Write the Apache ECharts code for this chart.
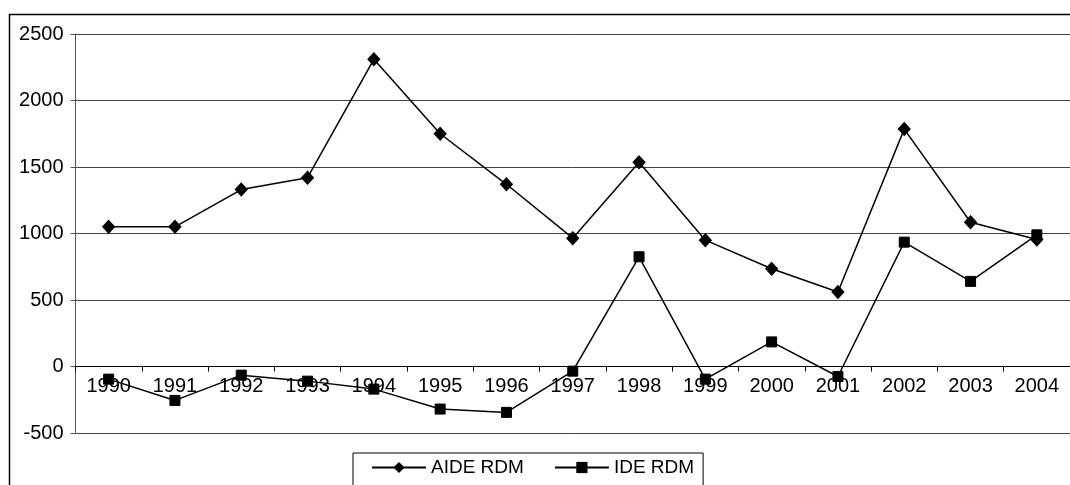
<!DOCTYPE html>
<html>
<head>
<meta charset="utf-8">
<style>
  html, body { margin: 0; padding: 0; background: #fff; }
  #chart { width: 1070px; height: 485px; }
</style>
<script src="https://cdn.jsdelivr.net/npm/echarts@6/dist/echarts.min.js"></script>
</head>
<body>
<div id="chart"></div>
<script>
// Years on the category axis
const years = ['1990', '1991', '1992', '1993', '1994', '1995', '1996', '1997',
               '1998', '1999', '2000', '2001', '2002', '2003', '2004'];

// AIDE RDM series
const aideRdm = [1050, 1050, 1330, 1420, 2310, 1750, 1370, 965,
                 1535, 950, 735, 560, 1785, 1085, 955];

// IDE RDM series
const ideRdm = [-95, -255, -65, -110, -170, -320, -345, -35,
                825, -95, 185, -75, 935, 640, 990];

// Value axis ticks
const yMin = -500, yMax = 2500, yStep = 500;

const font = '"Liberation Sans", Arial, sans-serif';

const chart = echarts.init(document.getElementById('chart'), null, { renderer: 'canvas' });

chart.setOption({
  animation: false,
  backgroundColor: '#fff',
  textStyle: { fontFamily: font, color: '#000' },
  graphic: [{
    type: 'rect',
    shape: { x: 9.5, y: 14.5, width: 1100, height: 520 },
    style: { fill: 'none', stroke: '#000', lineWidth: 1.5 },
    z: 100
  }],
  grid: { left: 75.5, right: -5, top: 34, bottom: 52, containLabel: false },
  legend: {
    left: 353,
    top: 453,
    padding: [5, 9, 20, 18],
    itemGap: 30,
    itemWidth: 54,
    itemHeight: 14,
    itemTextGap: 2,
    borderColor: '#000',
    borderWidth: 1,
    backgroundColor: '#fff',
    textStyle: { fontFamily: font, fontSize: 19, color: '#000' },
    data: ['AIDE RDM', 'IDE RDM']
  },
  xAxis: {
    type: 'category',
    data: years,
    boundaryGap: true,
    offset: 0,
    axisLine: { onZero: false, lineStyle: { color: '#000', width: 1 } },
    axisTick: { show: true, inside: false, length: 5, alignWithLabel: false, lineStyle: { color: '#000' } },
    axisLabel: { fontFamily: font, fontSize: 20, color: '#000', margin: 10, interval: 0 },
    splitLine: { show: false }
  },
  yAxis: {
    type: 'value',
    min: yMin,
    max: yMax,
    interval: yStep,
    axisLine: { show: true, lineStyle: { color: '#555', width: 1 } },
    axisTick: { show: true, inside: false, length: 5, lineStyle: { color: '#555' } },
    axisLabel: { fontFamily: font, fontSize: 20, color: '#000', margin: 12, formatter: v => String(v) },
    splitLine: { show: true, lineStyle: { color: '#444', width: 1 } }
  },
  series: [
    {
      name: 'AIDE RDM',
      type: 'line',
      data: aideRdm,
      symbol: 'diamond',
      symbolSize: [12, 13],
      showAllSymbol: true,
      lineStyle: { color: '#000', width: 1.5 },
      itemStyle: { color: '#000', borderColor: '#000' },
      z: 3
    },
    {
      name: 'IDE RDM',
      type: 'line',
      data: ideRdm,
      symbol: 'rect',
      symbolSize: 10,
      showAllSymbol: true,
      lineStyle: { color: '#000', width: 1.5 },
      itemStyle: { color: '#000', borderColor: '#000' },
      z: 3
    }
  ]
});

// Place the category axis on the zero line of the value axis
const yZero = chart.convertToPixel({ yAxisIndex: 0 }, 0);
const yBottom = chart.convertToPixel({ yAxisIndex: 0 }, yMin);
chart.setOption({ xAxis: { offset: yZero - yBottom } });
</script>
</body>
</html>
